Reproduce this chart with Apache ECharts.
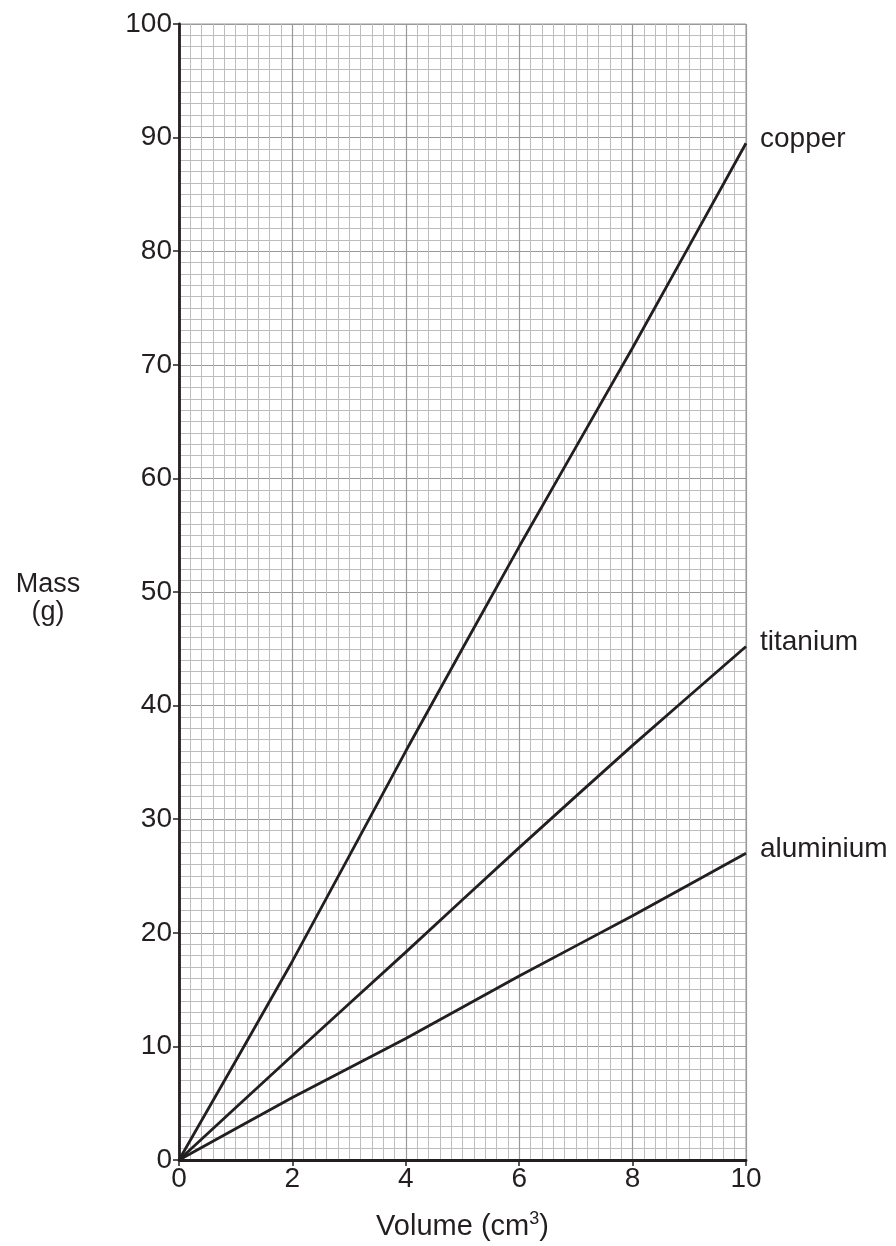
<!DOCTYPE html>
<html><head><meta charset="utf-8">
<script src="https://cdn.jsdelivr.net/npm/echarts@6/dist/echarts.min.js"></script>
<style>html,body{margin:0;padding:0;background:#fff}#c{width:896px;height:1246px}</style>
</head><body><div id="c"></div>
<script>
const volumes = [0, 2, 4, 6, 8, 10];
const copper = [0, 17.5, 36, 54, 71.5, 89.5];
const titanium = [0, 9.2, 18.3, 27.5, 36.5, 45.2];
const aluminium = [0, 5.5, 10.7, 16.2, 21.5, 27];
const seriesNames = ['copper', 'titanium', 'aluminium'];
const seriesData = [copper, titanium, aluminium];
const ink = '#231f20';
const font = 'Liberation Sans, Arial, sans-serif';

const chart = echarts.init(document.getElementById('c'), null, {renderer: 'canvas'});
chart.setOption({
  animation: false,
  grid: {left: 179, right: 150, top: 24, bottom: 86, show: true, borderColor: '#999', borderWidth: 1},
  xAxis: {
    type: 'value', min: 0, max: 10, interval: 2,
    name: 'Volume (cm{sup|3})', nameLocation: 'middle', nameGap: 50,
    nameTextStyle: {color: ink, fontSize: 29, fontFamily: font,
      rich: {sup: {fontSize: 18, color: ink, fontFamily: font, padding: [0, 0, 15, 0]}}},
    axisLine: {show: true, onZero: false, lineStyle: {color: ink, width: 2.8}},
    axisTick: {show: true, length: 6, lineStyle: {color: ink, width: 1.5}},
    axisLabel: {color: ink, fontSize: 28, fontFamily: font, margin: 5},
    splitLine: {show: true, lineStyle: {color: '#999', width: 1.2}},
    minorTick: {show: false, splitNumber: 10},
    minorSplitLine: {show: true, lineStyle: {color: '#bdbdbd', width: 1}}
  },
  yAxis: {
    type: 'value', min: 0, max: 100, interval: 10,
    axisLine: {show: true, onZero: false, lineStyle: {color: ink, width: 2.8}},
    axisTick: {show: true, length: 6, lineStyle: {color: ink, width: 1.5}},
    axisLabel: {color: ink, fontSize: 28, fontFamily: font, margin: 7},
    splitLine: {show: true, lineStyle: {color: '#999', width: 1.2}},
    minorTick: {show: false, splitNumber: 10},
    minorSplitLine: {show: true, lineStyle: {color: '#bdbdbd', width: 1}}
  },
  graphic: [{
    type: 'text', x: 48, y: 571,
    style: {text: 'Mass\n(g)', fill: ink, fontSize: 27, fontFamily: font, align: 'center', verticalAlign: 'top', lineHeight: 28}
  }],
  series: seriesNames.map((n, i) => ({
    type: 'line', name: n, data: volumes.map((v, j) => [v, seriesData[i][j]]),
    symbol: 'none', smooth: 0.15,
    lineStyle: {color: ink, width: 2.8},
    endLabel: {show: true, formatter: n, color: ink, fontSize: 28, fontFamily: font, distance: 14, offset: [0, -4]}
  }))
});
</script></body></html>
